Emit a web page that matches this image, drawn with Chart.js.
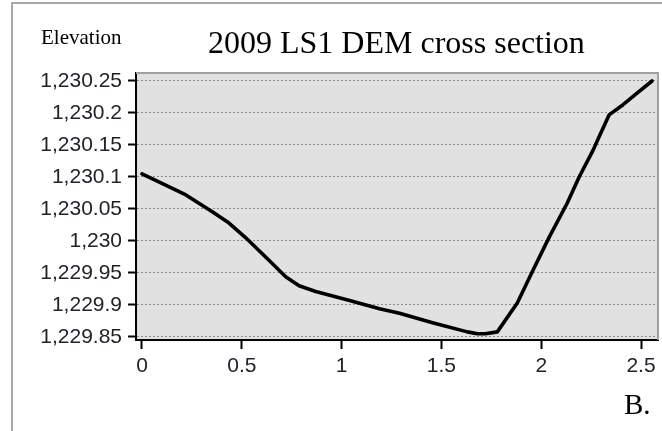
<!DOCTYPE html>
<html>
<head>
<meta charset="utf-8">
<script src="https://cdn.jsdelivr.net/npm/chart.js@4/dist/chart.umd.min.js"></script>
<style>
  html, body { margin: 0; padding: 0; background: #fff; }
  #wrap { position: relative; width: 662px; height: 431px; overflow: hidden; }
  #frame { position: absolute; left: 11px; top: 2px; width: 660px; height: 440px;
           border-left: 2px solid #a8a8a8; border-top: 2px solid #a8a8a8; }
  .txt { position: absolute; font-family: "Liberation Serif", "Times New Roman", serif;
         color: #000; line-height: 1; white-space: nowrap; }
  #ylab { left: 41px; top: 27px; font-size: 21px; }
  #title { left: 208px; top: 26px; font-size: 32px; }
  #blab { left: 624px; top: 390px; font-size: 29px; }
  canvas { position: absolute; left: 0; top: 0; }
</style>
</head>
<body>
<div id="wrap">
  <div id="frame"></div>
  <canvas id="c" width="662" height="431"></canvas>
  <div class="txt" id="ylab">Elevation</div>
  <div class="txt" id="title">2009 LS1 DEM cross section</div>
  <div class="txt" id="blab">B.</div>
</div>
<script>
// Distance along the cross section
const distance = [0, 0.10, 0.22, 0.356, 0.436, 0.52, 0.636, 0.72, 0.787, 0.87,
  1.04, 1.19, 1.29, 1.46, 1.63, 1.68, 1.72, 1.78, 1.88, 1.96,
  2.04, 2.13, 2.19, 2.26, 2.29, 2.34, 2.41, 2.48, 2.555];
// Elevation values
const elevation = [1230.105, 1230.090, 1230.072, 1230.045, 1230.028, 1230.005, 1229.970, 1229.944, 1229.930, 1229.921,
  1229.907, 1229.894, 1229.887, 1229.872, 1229.858, 1229.855, 1229.855, 1229.858, 1229.903, 1229.955,
  1230.006, 1230.059, 1230.100, 1230.142, 1230.163, 1230.197, 1230.213, 1230.231, 1230.250];
// Tick values
const xTicks = [0, 0.5, 1, 1.5, 2, 2.5];
const yTicks = [1229.85, 1229.9, 1229.95, 1230, 1230.05, 1230.1, 1230.15, 1230.2, 1230.25];
const yTickLabels = ["1,229.85", "1,229.9", "1,229.95", "1,230", "1,230.05", "1,230.1", "1,230.15", "1,230.2", "1,230.25"];

const points = distance.map((d, i) => ({ x: d, y: elevation[i] }));

const plotBg = {
  id: 'plotBg',
  beforeDraw(chart) {
    const a = chart.chartArea, ctx = chart.ctx;
    ctx.save();
    ctx.fillStyle = '#e1e1e1';
    ctx.fillRect(a.left, a.top, a.right - a.left, a.bottom - a.top);
    ctx.restore();
  },
  beforeDatasetsDraw(chart) {
    const a = chart.chartArea, ctx = chart.ctx;
    ctx.save();
    ctx.strokeStyle = '#a0a0a0';
    ctx.lineWidth = 2;
    ctx.beginPath();
    ctx.moveTo(a.left, a.top);
    ctx.lineTo(a.right, a.top);
    ctx.lineTo(a.right, a.bottom);
    ctx.stroke();
    ctx.restore();
  }
};

const tickFont = { family: '"Liberation Sans", Arial, sans-serif', size: 21 };

new Chart(document.getElementById('c'), {
  type: 'line',
  data: {
    datasets: [{
      data: points,
      borderColor: '#000',
      borderWidth: 3.6,
      pointRadius: 0,
      tension: 0,
      fill: false,
      borderJoinStyle: 'round',
      borderCapStyle: 'round'
    }]
  },
  options: {
    responsive: false,
    animation: false,
    layout: { padding: { left: 0, top: 73, right: 4, bottom: 0 } },
    plugins: { legend: { display: false }, tooltip: { enabled: false }, title: { display: false } },
    scales: {
      x: {
        type: 'linear',
        min: -0.03,
        max: 2.585,
        afterFit(s) { s.height = 91; },
        afterBuildTicks(s) { s.ticks = xTicks.map(v => ({ value: v })); },
        grid: { drawOnChartArea: false, drawTicks: true, tickLength: 9, tickWidth: 2, tickColor: '#000' },
        border: { display: true, color: '#000', width: 2 },
        ticks: { color: '#22222e', font: tickFont, padding: 5, maxRotation: 0,
                 callback: (v) => String(v) }
      },
      y: {
        type: 'linear',
        min: 1229.8453,
        max: 1230.2625,
        afterFit(s) { s.width = 136; },
        afterBuildTicks(s) { s.ticks = yTicks.map(v => ({ value: v })); },
        grid: { drawOnChartArea: true, color: '#8c8c8c', lineWidth: 1, drawTicks: true,
                tickLength: 8, tickWidth: 2, tickColor: '#000' },
        border: { display: true, color: '#000', width: 2, dash: [2, 2] },
        ticks: { color: '#22222e', font: tickFont, padding: 6,
                 callback: (v) => { const i = yTicks.findIndex(t => Math.abs(t - v) < 1e-6); return i >= 0 ? yTickLabels[i] : ''; } }
      }
    }
  },
  plugins: [plotBg]
});
</script>
</body>
</html>
